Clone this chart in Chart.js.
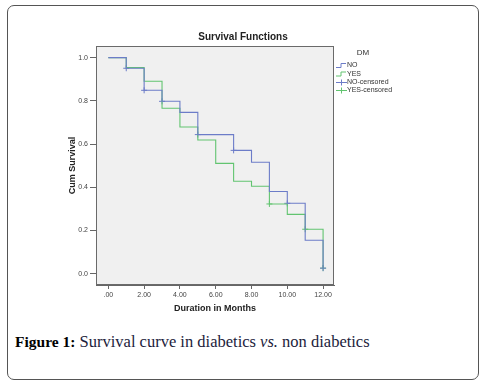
<!DOCTYPE html>
<html>
<head>
<meta charset="utf-8">
<script src="https://cdn.jsdelivr.net/npm/chart.js@4"></script>
<style>
  html, body { margin: 0; padding: 0; background: #fff; }
  #wrap { position: relative; width: 486px; height: 387px; }
  #frame {
    position: absolute; left: 7px; top: 5px; width: 472px; height: 375px;
    border: 1.5px solid #555; border-radius: 7px; box-sizing: border-box;
  }
  #chartBox { position: absolute; left: 0; top: 0; width: 486px; height: 330px; }
  #caption {
    position: absolute; left: 15px; top: 332px;
    font-family: "Liberation Serif", "DejaVu Serif", serif; font-size: 16.5px;
    color: #1c1c3c; white-space: nowrap;
  }
  #caption b { color: #000; font-size: 15.5px; }
</style>
</head>
<body>
<div id="wrap">
  <div id="frame"></div>
  <div id="chartBox"><canvas id="survChart"></canvas></div>
  <div id="caption"><b>Figure 1:</b> Survival curve in diabetics <i>vs.</i> non diabetics</div>
</div>
<script>
// Kaplan-Meier steps (months, cumulative survival)
const noMonths  = [0, 1, 2, 3, 4, 5, 7, 8, 9, 10, 11, 12];
const noSurv    = [1.0, 0.951, 0.849, 0.798, 0.747, 0.644, 0.571, 0.516, 0.381, 0.326, 0.155, 0.026];
const yesMonths = [0, 1, 2, 3, 4, 5, 6, 7, 8, 9, 10, 11, 12];
const yesSurv   = [1.0, 0.954, 0.891, 0.766, 0.679, 0.619, 0.511, 0.428, 0.405, 0.323, 0.275, 0.206, 0.026];

// censored observations
const noCensMonths  = [1, 2, 3, 5, 7, 10, 12];
const noCensSurv    = [0.951, 0.849, 0.798, 0.644, 0.571, 0.326, 0.026];
const yesCensMonths = [9, 11, 12];
const yesCensSurv   = [0.323, 0.206, 0.026];

const xTicks = [0, 2, 4, 6, 8, 10, 12];
const yTicks = [0, 0.2, 0.4, 0.6, 0.8, 1.0];
const legendLabels = ["NO", "YES", "NO-censored", "YES-censored"];

const BLUE = "rgb(108,124,200)";
const GREEN = "rgb(98,196,112)";
const SANS = "'Liberation Sans', Arial, sans-serif";

function toPoints(xs, ys) {
  return xs.map((x, i) => ({ x: x, y: ys[i] }));
}

function fmtX(v) {
  const s = v.toFixed(2);
  return v === 0 ? ".00" : s;
}

// plot background, frame, title and the SPSS style legend
const spssDecor = {
  id: "spssDecor",
  beforeDatasetsDraw(chart) {
    const { ctx, chartArea: a } = chart;
    ctx.save();
    ctx.fillStyle = "#f0f0f0";
    ctx.fillRect(a.left, a.top, a.right - a.left, a.bottom - a.top);
    ctx.restore();
  },
  afterDraw(chart) {
    const { ctx, chartArea: a } = chart;
    ctx.save();
    ctx.strokeStyle = "#6a6a6a";
    ctx.lineWidth = 1;
    ctx.strokeRect(a.left + 0.5, a.top + 0.5, a.right - a.left - 1, a.bottom - a.top - 1);

    ctx.fillStyle = "#222";
    ctx.font = "bold 10px " + SANS;
    ctx.textAlign = "center";
    ctx.textBaseline = "middle";
    ctx.fillText("Survival Functions", 243, 37);

    ctx.font = "8px " + SANS;
    ctx.fillStyle = "#333";
    ctx.fillText("DM", 363, 53);

    ctx.font = "7px " + SANS;
    ctx.textAlign = "left";
    const rows = [65, 73.5, 82, 90];
    const cols = [BLUE, GREEN, BLUE, GREEN];
    rows.forEach((y, i) => {
      ctx.strokeStyle = cols[i];
      ctx.lineWidth = 1;
      ctx.beginPath();
      if (i < 2) {
        ctx.moveTo(336, y + 2.5);
        ctx.lineTo(341, y + 2.5);
        ctx.lineTo(341, y - 1.5);
        ctx.lineTo(346, y - 1.5);
      } else {
        ctx.moveTo(336, y + 0.5);
        ctx.lineTo(347, y + 0.5);
        ctx.moveTo(341.5, y - 2.5);
        ctx.lineTo(341.5, y + 3.5);
      }
      ctx.stroke();
      ctx.fillStyle = "#333";
      ctx.fillText(legendLabels[i], 347, y + 0.5);
    });
    ctx.restore();
  }
};

const ctx = document.getElementById("survChart").getContext("2d");

new Chart(ctx, {
  type: "line",
  data: {
    datasets: [
      {
        label: legendLabels[0],
        data: toPoints(noMonths, noSurv),
        borderColor: BLUE,
        borderWidth: 1.1,
        stepped: true,
        pointRadius: 0,
        fill: false
      },
      {
        label: legendLabels[1],
        data: toPoints(yesMonths, yesSurv),
        borderColor: GREEN,
        borderWidth: 1.1,
        stepped: true,
        pointRadius: 0,
        fill: false
      },
      {
        label: legendLabels[2],
        data: toPoints(noCensMonths, noCensSurv),
        showLine: false,
        pointStyle: "cross",
        pointRadius: 3,
        borderColor: BLUE,
        borderWidth: 1
      },
      {
        label: legendLabels[3],
        data: toPoints(yesCensMonths, yesCensSurv),
        showLine: false,
        pointStyle: "cross",
        pointRadius: 3,
        borderColor: GREEN,
        borderWidth: 1
      }
    ]
  },
  options: {
    responsive: true,
    maintainAspectRatio: false,
    animation: false,
    layout: { padding: { left: 64, top: 46, right: 152, bottom: 16 } },
    plugins: {
      legend: { display: false },
      title: { display: false },
      tooltip: { enabled: false }
    },
    scales: {
      x: {
        type: "linear",
        min: -0.69,
        max: 12.61,
        afterBuildTicks: s => { s.ticks = xTicks.map(v => ({ value: v })); },
        afterFit: s => { s.height = 29; },
        ticks: {
          callback: v => fmtX(v),
          font: { size: 7, family: SANS },
          color: "#444",
          padding: 2,
          maxRotation: 0
        },
        grid: { drawOnChartArea: false, drawTicks: true, tickLength: 4, color: "#666" },
        border: { display: true, color: "#666" },
        title: {
          display: true,
          text: "Duration in Months",
          font: { size: 9, weight: "bold", family: SANS },
          color: "#222",
          padding: { top: 4, bottom: 0 }
        }
      },
      y: {
        type: "linear",
        min: -0.052,
        max: 1.054,
        afterBuildTicks: s => { s.ticks = yTicks.map(v => ({ value: v })); },
        afterFit: s => { s.width = 32; },
        ticks: {
          callback: v => v.toFixed(1),
          font: { size: 7, family: SANS },
          color: "#444",
          padding: 2
        },
        grid: { drawOnChartArea: false, drawTicks: true, tickLength: 6, color: "#666" },
        border: { display: true, color: "#666" },
        title: {
          display: true,
          text: "Cum Survival",
          font: { size: 9, weight: "bold", family: SANS },
          color: "#222",
          padding: { top: 3, bottom: 0 }
        }
      }
    }
  },
  plugins: [spssDecor]
});
</script>
</body>
</html>
